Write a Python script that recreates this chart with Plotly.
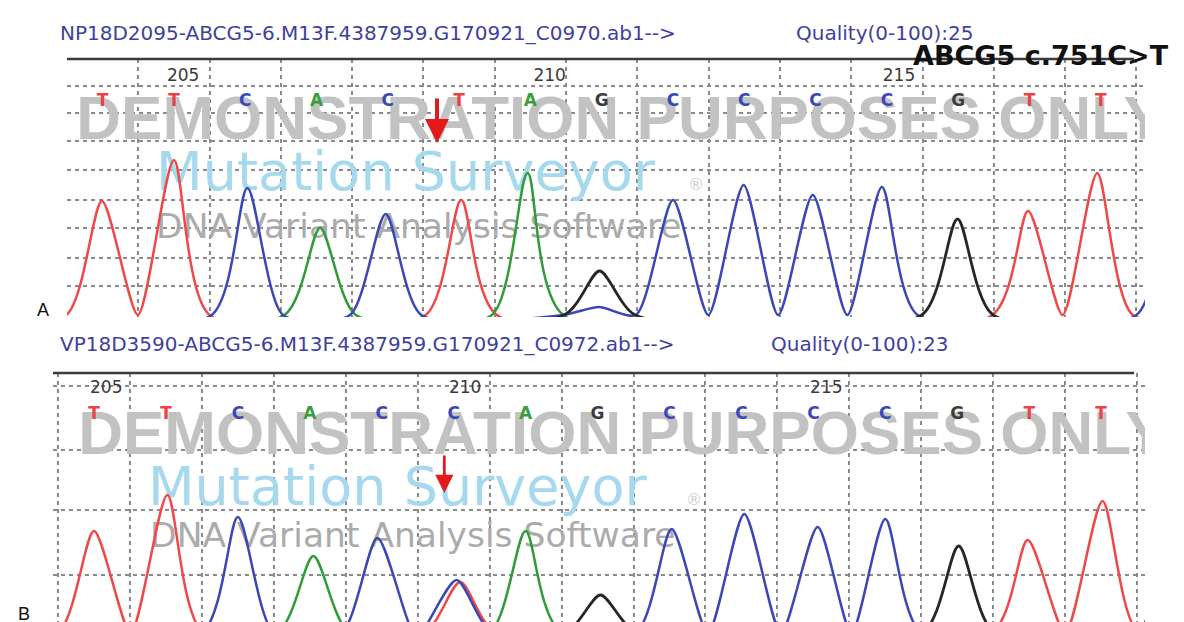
import plotly.graph_objects as go

# ---------------- data ----------------
# Panel A (NP18D2095) called bases and peak data
bases_a = ["T", "T", "C", "A", "C", "T", "A", "G", "C", "C", "C", "C", "G", "T", "T"]
peak_pos_a = [0.49, 1.50, 2.53, 3.55, 4.47, 5.53, 6.46, 7.47, 8.50, 9.49, 10.46, 11.43, 12.49, 13.48, 14.45]
peak_amp_a = [114, 155, 127, 87, 101, 115, 142, 44, 115, 130, 120, 128, 96, 104, 142]
# flanking / minor peaks in panel A
extra_base_a = ["C", "C"]
extra_pos_a = [15.50, 7.46]
extra_amp_a = [130, 8]

# Panel B (VP18D3590) called bases and peak data
bases_b = ["T", "T", "C", "A", "C", "C", "A", "G", "C", "C", "C", "C", "G", "T", "T"]
peak_pos_b = [0.50, 1.52, 2.50, 3.55, 4.44, 5.54, 6.50, 7.54, 8.53, 9.54, 10.56, 11.50, 12.52, 13.48, 14.52]
peak_amp_b = [102, 138, 116, 77, 95, 53, 102, 38, 104, 119, 106, 114, 87, 93, 132]
# flanking / secondary (heterozygous T) peaks in panel B
extra_base_b = ["A", "T", "C"]
extra_pos_b = [-0.45, 5.59, 15.50]
extra_amp_b = [60, 51, 110]

number_labels = ["205", "210", "215"]
number_pos_a = [1.63, 6.77, 11.67]
number_pos_b = [0.67, 5.66, 10.68]

hgrid_a = [29, 57, 87, 115, 145, 174, 202, 229]
hgrid_b = [58, 123, 183, 247]
vgrid = list(range(16))

header_a = "NP18D2095-ABCG5-6.M13F.4387959.G170921_C0970.ab1-->"
quality_a = "Quality(0-100):25"
header_b = "VP18D3590-ABCG5-6.M13F.4387959.G170921_C0972.ab1-->"
quality_b = "Quality(0-100):23"
mutation_label = "ABCG5 c.751C>T"

# ---------------- styling ----------------
W, H = 1184, 622
trace_colors = {"A": "#2f9c3a", "C": "#3a47b6", "G": "#262626", "T": "#ef4848"}
letter_colors = {"A": "#3a9e3a", "C": "#3b46b8", "G": "#3c3c3c", "T": "#ee4040"}
HALF_W = 0.5


def build_trace(base_list, pos_list, amp_list, base, x0=-1.6, x1=16.6):
    pk = sorted((p, h) for b, p, h in zip(base_list, pos_list, amp_list) if b == base)
    xs, ys = [x0], [0]
    for p, h in pk:
        lf = p - HALF_W
        if lf > xs[-1] + 0.06:
            xs.append(lf)
            ys.append(0)
        elif len(xs) > 1 and ys[-1] == 0:
            xs[-1] = (xs[-1] + lf) / 2
        xs.append(p)
        ys.append(h)
        xs.append(p + HALF_W)
        ys.append(0)
    xs.append(x1)
    ys.append(0)
    return xs, ys


fig = go.Figure()


def add_panel(xa, ya, bases, pos, amp, ebase, epos, eamp, wm):
    allb = bases + ebase
    allp = pos + epos
    alla = amp + eamp
    (dx, dy), (mx, my), (rx, ry), (sx, sy) = wm
    fig.add_trace(go.Scatter(x=[dx], y=[dy], mode="text", text=["<b>DEMONSTRATION PURPOSES ONLY</b>"],
                             textposition="middle right", cliponaxis=True, hoverinfo="skip",
                             textfont=dict(family="Liberation Sans", size=62, color="#c2c2c2"),
                             xaxis=xa, yaxis=ya, showlegend=False))
    fig.add_trace(go.Scatter(x=[mx], y=[my], mode="text", text=["Mutation Surveyor"],
                             textposition="middle right", cliponaxis=True, hoverinfo="skip",
                             textfont=dict(family="DejaVu Sans", size=54, color="#a6d8ee"),
                             xaxis=xa, yaxis=ya, showlegend=False))
    fig.add_trace(go.Scatter(x=[rx], y=[ry], mode="text", text=["®"],
                             textposition="middle right", cliponaxis=True, hoverinfo="skip",
                             textfont=dict(family="DejaVu Sans", size=16, color="#d0d0d0"),
                             xaxis=xa, yaxis=ya, showlegend=False))
    fig.add_trace(go.Scatter(x=[sx], y=[sy], mode="text", text=["DNA Variant Analysis Software"],
                             textposition="middle right", cliponaxis=True, hoverinfo="skip",
                             textfont=dict(family="DejaVu Sans", size=34.5, color="#ababab"),
                             xaxis=xa, yaxis=ya, showlegend=False))
    for b in ["T", "A", "C", "G"]:
        xs, ys = build_trace(allb, allp, alla, b)
        fig.add_trace(go.Scatter(x=xs, y=ys, mode="lines", xaxis=xa, yaxis=ya,
                                 line=dict(color=trace_colors[b], width=2.5 if b != "G" else 2.8,
                                           shape="spline", smoothing=0.7),
                                 hoverinfo="skip", showlegend=False, cliponaxis=True))


add_panel("x", "y", bases_a, peak_pos_a, peak_amp_a, extra_base_a, extra_pos_a, extra_amp_a,
          ((0.13, 192), (1.25, 139), (8.71, 129), (1.25, 86)))
add_panel("x2", "y2", bases_b, peak_pos_b, peak_amp_b, extra_base_b, extra_pos_b, extra_amp_b,
          ((0.28, 195), (1.25, 142), (8.73, 132), (1.28, 95)))

# base letters and position numbers
for xa, ya, bases, npos, ly, ny in [("x", "y", bases_a, number_pos_a, 213, 238),
                                     ("x2", "y2", bases_b, number_pos_b, 218, 244)]:
    fig.add_trace(go.Scatter(x=[i + 0.5 for i in range(len(bases))], y=[ly] * len(bases),
                             mode="text", text=["<b>%s</b>" % b for b in bases], cliponaxis=False,
                             hoverinfo="skip",
                             textfont=dict(family="DejaVu Sans", size=17,
                                           color=[letter_colors[b] for b in bases]),
                             xaxis=xa, yaxis=ya, showlegend=False))
    fig.add_trace(go.Scatter(x=npos, y=[ny] * len(npos), mode="text", text=number_labels,
                             cliponaxis=False, hoverinfo="skip",
                             textfont=dict(family="DejaVu Sans", size=17, color="#3a3a3a"),
                             xaxis=xa, yaxis=ya, showlegend=False))

grid_common = dict(showgrid=True, griddash="4px,4px", gridcolor="#8a8a8a", gridwidth=1.6,
                   showticklabels=False, ticks="", zeroline=False, showline=False)

fig.update_layout(
    width=W, height=H,
    margin=dict(l=0, r=0, t=0, b=0),
    paper_bgcolor="white", plot_bgcolor="white",
    showlegend=False,
    xaxis=dict(domain=[59 / W, 1137 / W], range=[0, 15.12], tickvals=vgrid, anchor="y", **grid_common),
    yaxis=dict(domain=[1 - 309 / H, 1 - 51 / H], range=[-2, 256], tickvals=hgrid_a, anchor="x", **grid_common),
    xaxis2=dict(domain=[45 / W, 1137 / W], range=[-0.07, 15.11], tickvals=vgrid, anchor="y2", **grid_common),
    yaxis2=dict(domain=[0, 1 - 365 / H], range=[3, 260], tickvals=hgrid_b, anchor="x2", **grid_common),
)

# top solid borders
for xr, yr in [("x domain", "y domain"), ("x2 domain", "y2 domain")]:
    fig.add_shape(type="line", xref=xr, yref=yr, x0=0, x1=0.99, y0=1, y1=1,
                  line=dict(color="#3a3a3a", width=2.4))

hdr_font = dict(family="DejaVu Sans", size=20, color="#3f3fa0")
annos = [
    dict(text=header_a, x=50 / W, y=1 - 25 / H, xanchor="left", yanchor="middle", font=hdr_font),
    dict(text=quality_a, x=786 / W, y=1 - 25 / H, xanchor="left", yanchor="middle", font=hdr_font),
    dict(text=header_b, x=50 / W, y=1 - 336 / H, xanchor="left", yanchor="middle", font=hdr_font),
    dict(text=quality_b, x=761 / W, y=1 - 336 / H, xanchor="left", yanchor="middle", font=hdr_font),
    dict(text="<b>" + mutation_label + "</b>", x=903 / W, y=1 - 47 / H, xanchor="left", yanchor="middle",
         font=dict(family="DejaVu Sans", size=27, color="#111111")),
    dict(text="A", x=35 / W, y=1 - 302 / H, xanchor="center", yanchor="middle",
         font=dict(family="Liberation Sans", size=18, color="#111111")),
    dict(text="B", x=16 / W, y=1 - 606 / H, xanchor="center", yanchor="middle",
         font=dict(family="Liberation Sans", size=18, color="#111111")),
]
for a in annos:
    fig.add_annotation(xref="paper", yref="paper", showarrow=False, **a)

# red arrows marking the variant
fig.add_annotation(x=5.19, y=172, xref="x", yref="y", ax=0, ay=-46, showarrow=True,
                   arrowhead=2, arrowsize=1.2, arrowwidth=4, arrowcolor="#e41a1a", text="")
fig.add_annotation(x=5.37, y=140, xref="x2", yref="y2", ax=0, ay=-39, showarrow=True,
                   arrowhead=2, arrowsize=1.3, arrowwidth=2.8, arrowcolor="#e41a1a", text="")

fig.write_html("out.html")
